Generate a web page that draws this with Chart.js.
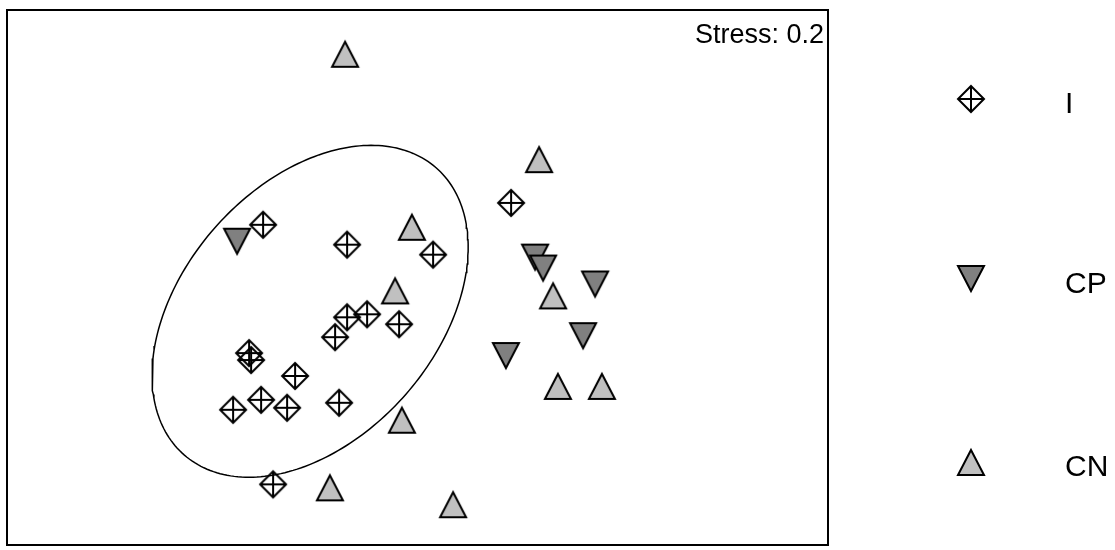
<!DOCTYPE html>
<html>
<head>
<meta charset="utf-8">
<script src="https://cdn.jsdelivr.net/npm/chart.js@4/dist/chart.umd.min.js"></script>
<style>
  html, body { margin: 0; padding: 0; background: #ffffff; }
  #wrap { width: 1115px; height: 550px; }
</style>
</head>
<body>
<div id="wrap"><canvas id="nmdsChart" width="1115" height="550"></canvas></div>
<script>
// NMDS ordinatsiya nuqtalari (o'qlar birligida)
const groupNames = ['I', 'CP', 'CN'];

const iX  = [-0.772, -0.352, 0.078, -0.352, -0.252, -0.092, -0.412, -0.842, -0.832, -0.612, -0.782, -0.652, -0.922, -0.392, -0.722, 0.468];
const iY  = [0.265, 0.165, 0.115, -0.200, -0.185, -0.235, -0.300, -0.380, -0.415, -0.495, -0.615, -0.655, -0.665, -0.630, -1.040, 0.375];

const cpX = [-0.902, 0.588, 0.628, 0.888, 0.828, 0.442];
const cpY = [0.180, 0.100, 0.045, -0.035, -0.295, -0.395];

const cnX = [-0.362, -0.028, -0.112, -0.078, -0.438, 0.178, 0.608, 0.678, 0.702, 0.922];
const cnY = [1.125, 0.255, -0.065, -0.715, -1.055, -1.140, 0.595, -0.090, -0.545, -0.545];

// I guruhi ellipsi: markaz, yarim o'qlar, burchak (gradus)
const ellipseCenter = [-0.537, -0.170];
const ellipseRadii = [0.958, 0.635];
const ellipseAngle = 49;

const stressLabel = 'Stress: 0.2';

// O'q chegaralari
const xRange = [-2.0525, 2.0525];
const yRange = [-1.345, 1.345];

function juftlar(xs, ys) {
    return xs.map((x, i) => ({ x: x, y: ys[i] }));
}

function ellipsNuqtalari() {
    const pts = [];
    const t = ellipseAngle * Math.PI / 180;
    const n = 240;
    for (let k = 0; k <= n; k++) {
        const a = 2 * Math.PI * k / n;
        const ex = ellipseRadii[0] * Math.cos(a);
        const ey = ellipseRadii[1] * Math.sin(a);
        pts.push({
            x: ellipseCenter[0] + ex * Math.cos(t) - ey * Math.sin(t),
            y: ellipseCenter[1] + ex * Math.sin(t) + ey * Math.cos(t)
        });
    }
    return pts;
}

// Belgilar (marker) rasmlari
function belgiChiz(turi, rang) {
    const c = document.createElement('canvas');
    c.width = 32;
    c.height = 32;
    const g = c.getContext('2d');
    g.lineWidth = 2;
    g.strokeStyle = '#000000';
    g.lineJoin = 'miter';
    if (turi === 'diamond') {
        g.beginPath();
        g.moveTo(16, 3); g.lineTo(29, 16); g.lineTo(16, 29); g.lineTo(3, 16); g.closePath();
        g.moveTo(16, 3); g.lineTo(16, 29);
        g.moveTo(3, 16); g.lineTo(29, 16);
        g.stroke();
    } else if (turi === 'up') {
        g.beginPath();
        g.moveTo(16, 4); g.lineTo(29, 29); g.lineTo(3, 29); g.closePath();
        g.fillStyle = rang; g.fill(); g.stroke();
    } else {
        g.beginPath();
        g.moveTo(3, 3); g.lineTo(29, 3); g.lineTo(16, 28); g.closePath();
        g.fillStyle = rang; g.fill(); g.stroke();
    }
    return c;
}

const belgilar = {
    I: belgiChiz('diamond'),
    CP: belgiChiz('down', '#808080'),
    CN: belgiChiz('up', '#c0c0c0')
};

// Ramka, stress yozuvi va legenda
const bezakPlugin = {
    id: 'bezak',
    afterDraw(chart) {
        const ctx = chart.ctx;
        const a = chart.chartArea;
        ctx.save();
        ctx.lineWidth = 2;
        ctx.strokeStyle = '#000000';
        ctx.strokeRect(a.left, a.top, a.right - a.left, a.bottom - a.top);

        ctx.fillStyle = '#000000';
        ctx.font = '27px "Liberation Sans", Arial, sans-serif';
        ctx.textAlign = 'right';
        ctx.textBaseline = 'alphabetic';
        ctx.fillText(stressLabel, a.right - 4, 43);

        ctx.font = '30px "Liberation Sans", Arial, sans-serif';
        ctx.textAlign = 'left';
        const qatorY = [99, 279, 462];
        groupNames.forEach((nom, i) => {
            const img = belgilar[nom];
            ctx.drawImage(img, 971 - img.width / 2, qatorY[i] - img.height / 2);
            ctx.fillText(nom, 1065, qatorY[i] + 14);
        });
        ctx.restore();
    }
};

const ctx = document.getElementById('nmdsChart').getContext('2d');

new Chart(ctx, {
    type: 'scatter',
    data: {
        datasets: [
            {
                label: 'ellipse',
                data: ellipsNuqtalari(),
                showLine: true,
                borderColor: '#000000',
                borderWidth: 1.5,
                pointRadius: 0,
                fill: false,
                tension: 0,
                order: 4
            },
            {
                label: 'I',
                data: juftlar(iX, iY),
                pointStyle: belgilar.I,
                order: 3
            },
            {
                label: 'CP',
                data: juftlar(cpX, cpY),
                pointStyle: belgilar.CP,
                order: 2
            },
            {
                label: 'CN',
                data: juftlar(cnX, cnY),
                pointStyle: belgilar.CN,
                order: 1
            }
        ]
    },
    options: {
        responsive: false,
        animation: false,
        layout: {
            padding: { left: 7, top: 10, right: 287, bottom: 2 }
        },
        plugins: {
            legend: { display: false },
            tooltip: { enabled: false }
        },
        scales: {
            x: { type: 'linear', min: xRange[0], max: xRange[1], display: false },
            y: { type: 'linear', min: yRange[0], max: yRange[1], display: false }
        }
    },
    plugins: [bezakPlugin]
});
</script>
</body>
</html>
